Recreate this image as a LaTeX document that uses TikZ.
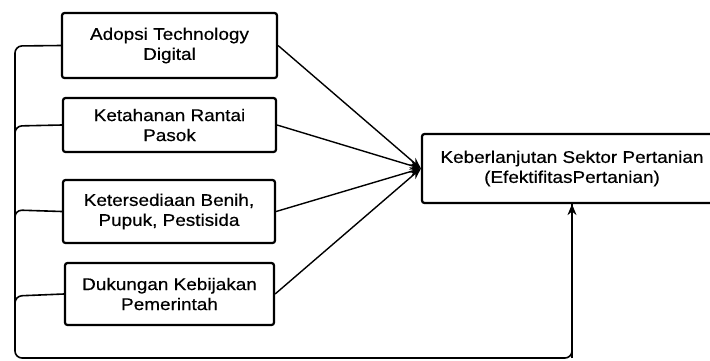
\documentclass[tikz,border=0pt]{standalone}
\usepackage{fontspec}
\setmainfont[FakeStretch=1.12,FakeBold=0.5]{Liberation Sans}
\usetikzlibrary{arrows.meta}
\begin{document}
\begin{tikzpicture}[x=1pt,y=-1pt,
  box/.style={draw=black, line width=2.2pt, rounded corners=2.5pt, fill=white, align=center,
    inner sep=0pt, font=\fontsize{16.9}{20}\selectfont},
  conn/.style={draw=black, line width=1.4pt},
  arr/.style={conn, -{Stealth[length=11pt,width=9pt]}},
  bus/.style={conn, line width=1.6pt, rounded corners=7pt}]
\useasboundingbox (0,0) rectangle (710,360);
\clip (0,0) rectangle (710,360);
\node[box, minimum width=215pt, minimum height=65pt] (b1) at (169.5,45.5) {Adopsi Technology\\Digital};
\node[box, minimum width=213pt, minimum height=54pt] (b2) at (169.5,125) {Ketahanan Rantai\\Pasok};
\node[box, minimum width=212pt, minimum height=63pt] (b3) at (169,211.5) {Ketersediaan Benih,\\Pupuk, Pestisida};
\node[box, minimum width=209pt, minimum height=62pt] (b4) at (169.5,294) {Dukungan Kebijakan\\Pemerintah};
\node[box, minimum width=300pt, minimum height=69pt] (t) at (572,168.5) {Keberlanjutan Sektor Pertanian\\(EfektifitasPertanian)};
\coordinate (c1) at (15,46);
\coordinate (c2) at (15,126);
\coordinate (c3) at (15,210);
\coordinate (c4) at (15,296);
\coordinate (bl) at (15,358);
\coordinate (br) at (572,358);
\draw[bus] (b1.west) -- (c1) -- (bl) -- (br) -- (t.south);
\draw[bus] (b2.west) -- (c2) -- ++(0,20);
\draw[bus] (b3.west) -- (c3) -- ++(0,20);
\draw[bus] (b4.west) -- (c4) -- ++(0,20);
\draw[arr] (br) -- (t.south);
\draw[arr] (b1.east) -- (t.west);
\draw[arr] (b2.east) -- (t.west);
\draw[arr] (b3.east) -- (t.west);
\draw[arr] (b4.east) -- (t.west);
\end{tikzpicture}
\end{document}
